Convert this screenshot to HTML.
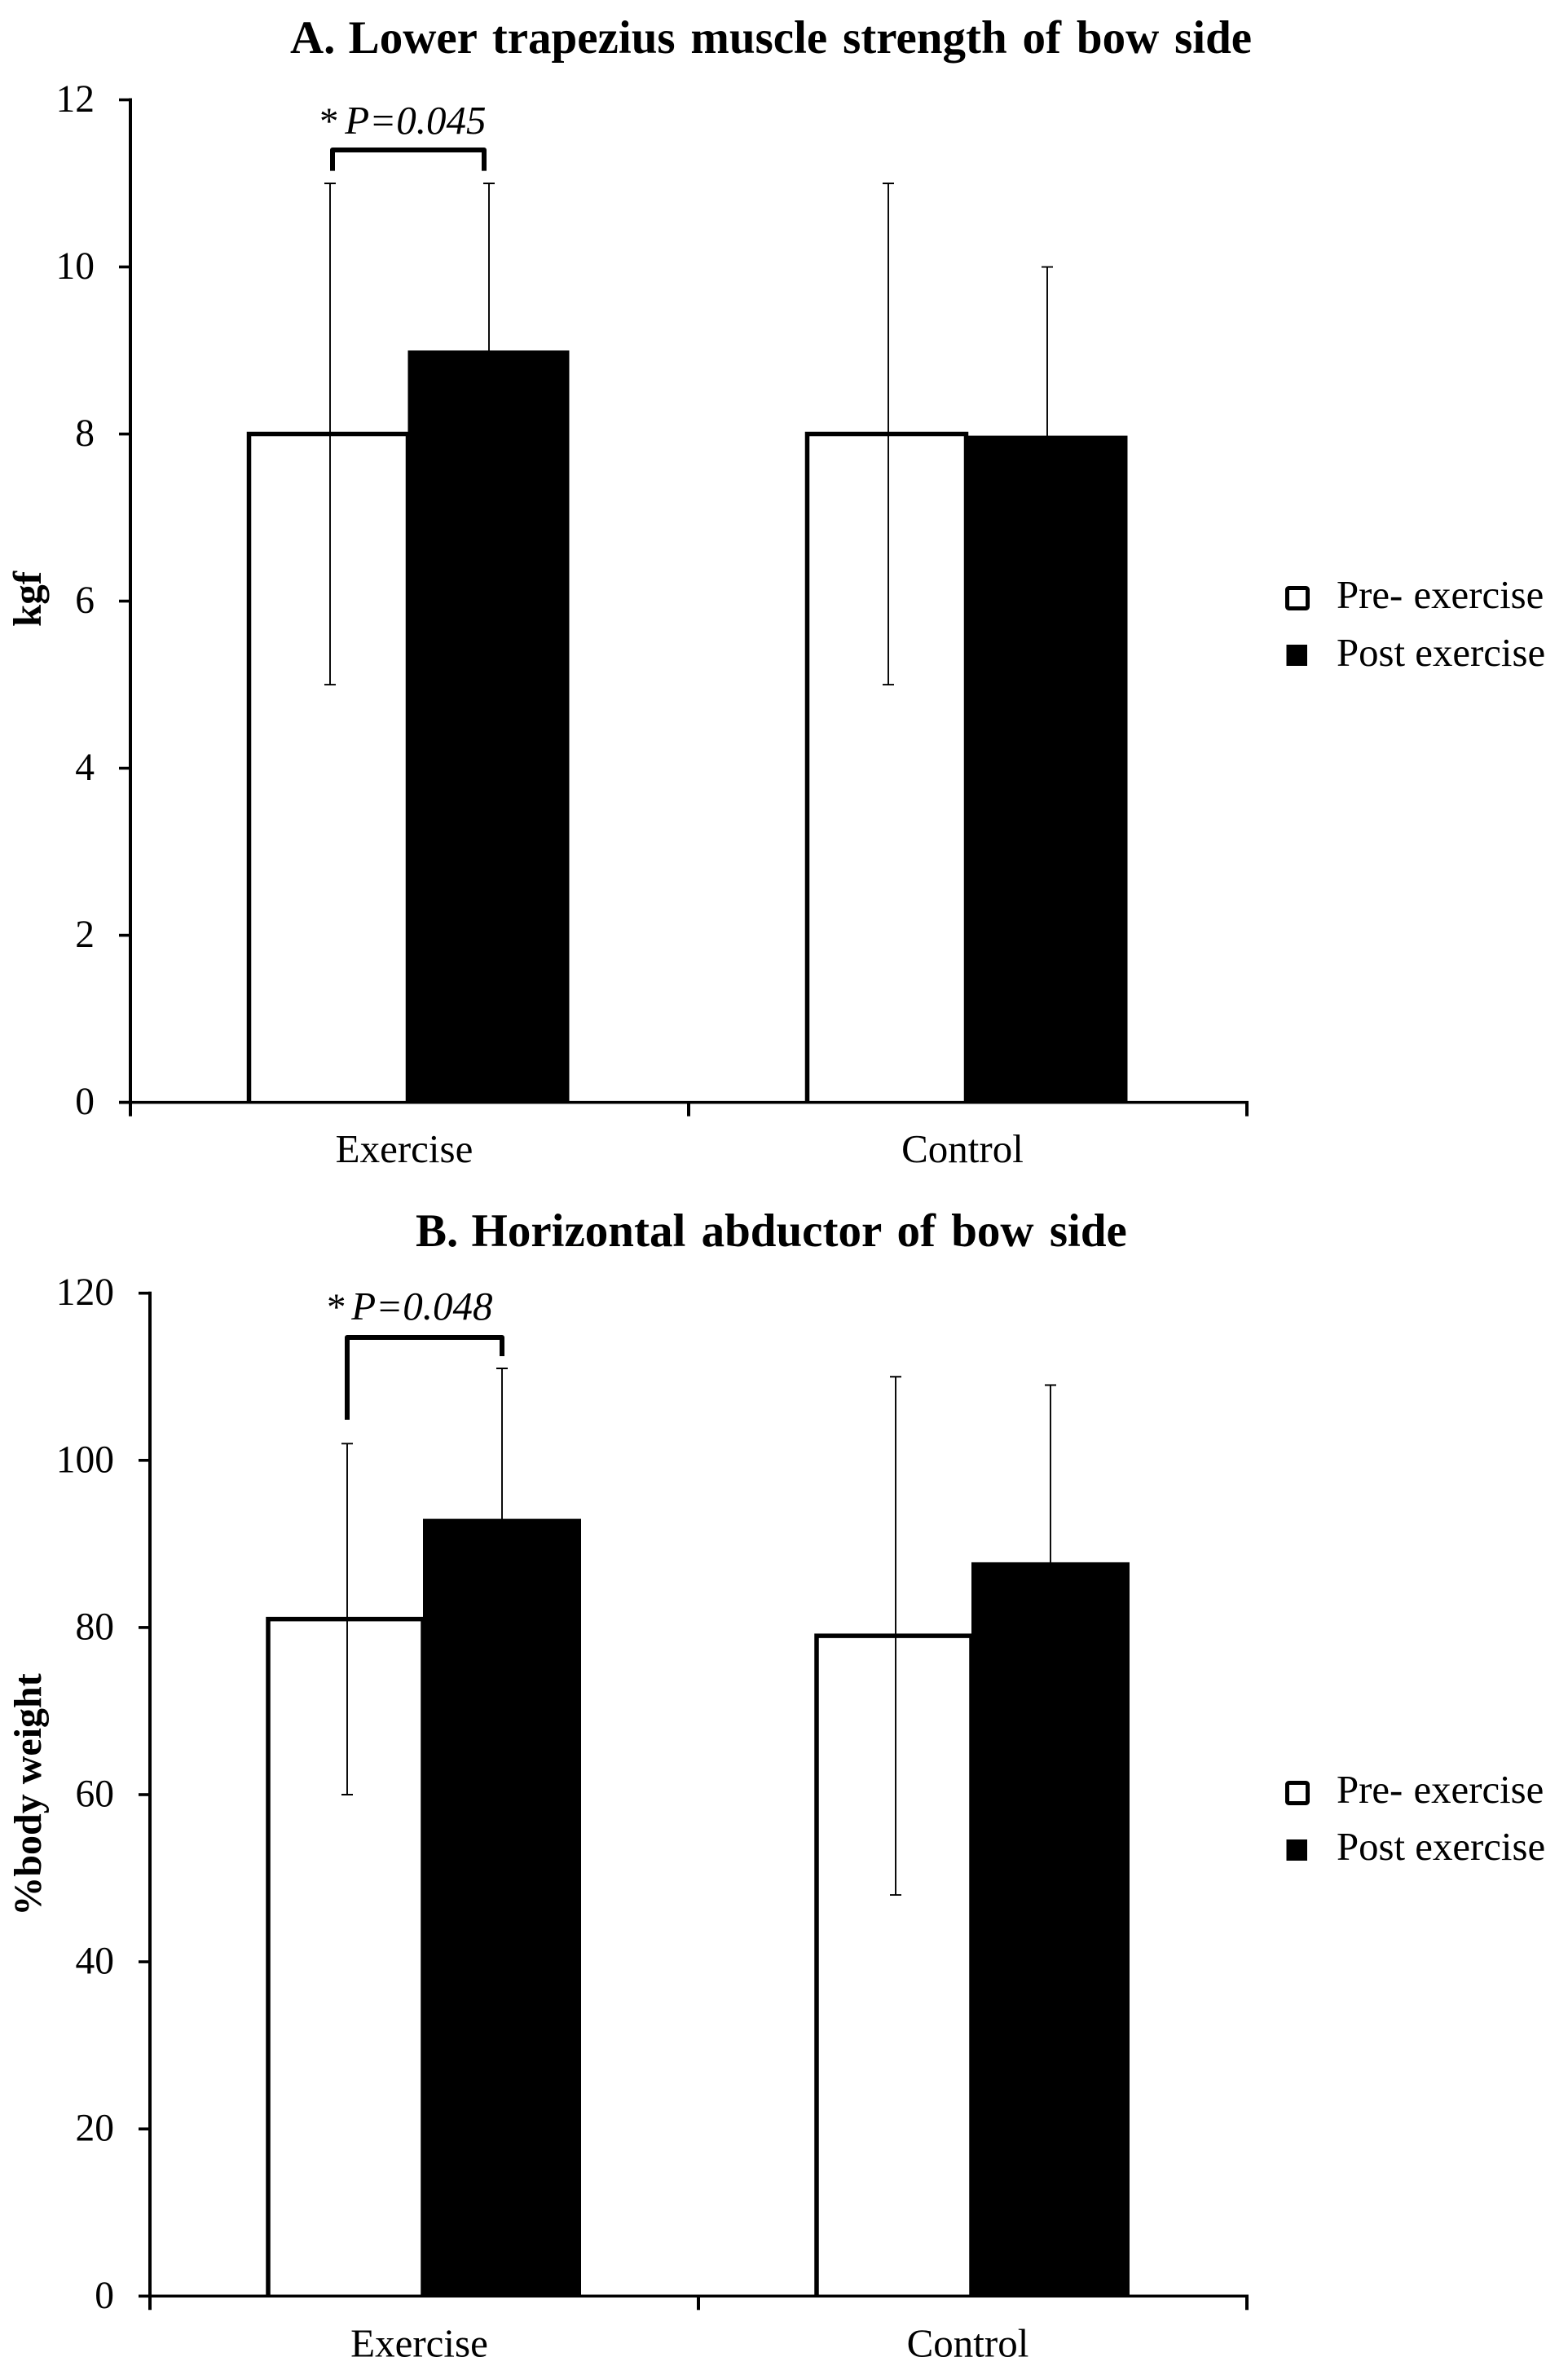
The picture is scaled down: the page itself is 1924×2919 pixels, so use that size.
<!DOCTYPE html>
<html lang="en">
<head>
<meta charset="utf-8">
<title>Lower trapezius and horizontal abductor strength</title>
<style>
html,body{margin:0;padding:0;background:#fff;}
svg{display:block;}
text{font-family:"Liberation Serif",serif;fill:#000;}
</style>
</head>
<body>
<svg id="figure" xmlns="http://www.w3.org/2000/svg" width="1924" height="2919" viewBox="0 0 1924 2919">
  <rect x="0" y="0" width="1924" height="2919" fill="#fff"/>
  <text x="356" y="65" font-size="57" font-weight="bold"><tspan word-spacing="2">A. </tspan><tspan word-spacing="4.6">Lower trapezius muscle strength of bow side</tspan></text>
  <text x="510" y="1529" font-size="57" font-weight="bold"><tspan word-spacing="2">B. </tspan><tspan word-spacing="5">Horizontal abductor of bow side</tspan></text>
  <text transform="translate(50,735) rotate(-90)" text-anchor="middle" font-size="49" font-weight="bold">kgf</text>
  <text transform="translate(50,2202) rotate(-90)" text-anchor="middle" font-size="48" font-weight="bold">%body weight</text>
  <text x="392" y="164" font-size="47">* <tspan font-style="italic" font-size="49" dx="-4">P=0.045</tspan></text>
  <text x="401" y="1619" font-size="47">* <tspan font-style="italic" font-size="49" dx="-5">P=0.048</tspan></text>
  <g>
    <rect x="1579.5" y="721.5" width="25" height="25" rx="2" fill="#fff" stroke="#000" stroke-width="5"/>
    <text x="1640" y="746" font-size="48.8" word-spacing="1">Pre- exercise</text>
    <rect x="1578.5" y="791" width="25.5" height="26" fill="#000"/>
    <text x="1640" y="817" font-size="48.8">Post exercise</text>
  </g>
  <g>
    <rect x="1579.5" y="2187.5" width="25" height="25" rx="2" fill="#fff" stroke="#000" stroke-width="5"/>
    <text x="1640" y="2212" font-size="48.8" word-spacing="1">Pre- exercise</text>
    <rect x="1578.5" y="2257" width="25.5" height="26" fill="#000"/>
    <text x="1640" y="2282" font-size="48.8">Post exercise</text>
  </g>
</svg>
<script>
const categories = ['Exercise', 'Control'];

const ticksA = [0, 2, 4, 6, 8, 10, 12];
const preA = [8, 8];
const postA = [9, 7.98];
const preHighA = [11, 11];
const preLowA = [5, 5];
const postHighA = [11, 10];
const postLowA = [7, 6];

const ticksB = [0, 20, 40, 60, 80, 100, 120];
const preB = [81, 79];
const postB = [93, 87.8];
const preHighB = [102, 110];
const preLowB = [60, 48];
const postHighB = [111, 109];
const postLowB = [75, 67];

const NS = 'http://www.w3.org/2000/svg';
const svg = document.getElementById('figure');

function make(parent, tag, attrs) {
  const el = document.createElementNS(NS, tag);
  for (const k in attrs) el.setAttribute(k, attrs[k]);
  parent.appendChild(el);
  return el;
}

function drawChart(cfg) {
  const root = make(svg, 'g', {});
  
  

  const domainMax = cfg.ticks[cfg.ticks.length - 1];
  const yScale = v => cfg.y0 - (cfg.y0 - cfg.yTop) * v / domainMax;
  const groupWidth = (cfg.xRight - cfg.xLeft) / cfg.categories.length;
  const groupStart = i => cfg.xLeft + groupWidth * i;
  const barLeft = (i, s) => groupStart(i) + cfg.barOffset + cfg.barStep * s;
  const errX = (i, s) => barLeft(i, s) + cfg.errOffset;

  cfg.categories.forEach((name, i) => {
    const px = barLeft(i, 0);
    const pre = make(root, 'path', {
      d: 'M' + px + ' ' + cfg.y0 + 'V' + yScale(cfg.pre[i]) + 'H' + (px + cfg.barStep) + 'V' + cfg.y0,
      fill: '#fff', stroke: '#000', 'stroke-width': 5.5
    });
    
    

    const post = make(root, 'rect', {
      x: barLeft(i, 1), y: yScale(cfg.post[i]),
      width: cfg.barWidth, height: cfg.y0 - yScale(cfg.post[i]),
      fill: '#000'
    });
    
    

    [[cfg.preHigh, cfg.preLow, 0, 'pre'], [cfg.postHigh, cfg.postLow, 1, 'post']].forEach(e => {
      const hi = yScale(e[0][i]);
      const lo = yScale(e[1][i]);
      const x = errX(i, e[2]);
      const d = 'M' + x + ' ' + hi + 'V' + lo +
        'M' + (x - 7) + ' ' + hi + 'H' + (x + 7) +
        'M' + (x - 7) + ' ' + lo + 'H' + (x + 7);
      const err = make(root, 'path', { d: d, fill: 'none', stroke: '#000', 'stroke-width': 1.9 });
      
      
    });

    const label = make(root, 'text', {
      x: groupStart(i) + groupWidth / 2 + cfg.catShift, y: cfg.catBaseline,
      'text-anchor': 'middle', 'font-size': 49
    });
    label.textContent = name;
    
    
  });

  const yAxis = make(root, 'line', {
    x1: cfg.xLeft, x2: cfg.xLeft, y1: yScale(domainMax) - 2, y2: cfg.y0 + 17,
    stroke: '#000', 'stroke-width': 4
  });
  
  

  const xAxis = make(root, 'line', {
    x1: cfg.xLeft - 14, x2: cfg.xRight + 2, y1: cfg.y0, y2: cfg.y0,
    stroke: '#000', 'stroke-width': 3.5
  });
  
  

  for (let i = 1; i <= cfg.categories.length; i++) {
    const t = make(root, 'line', {
      x1: groupStart(i), x2: groupStart(i), y1: cfg.y0, y2: cfg.y0 + 17,
      stroke: '#000', 'stroke-width': 4
    });
    
    
  }

  cfg.ticks.forEach(v => {
    const y = yScale(v);
    const t = make(root, 'line', {
      x1: cfg.xLeft - 14, x2: cfg.xLeft, y1: y, y2: y,
      stroke: '#000', 'stroke-width': 3.6
    });
    
    

    const label = make(root, 'text', {
      x: cfg.xLeft - 44, y: y + 14.5, 'text-anchor': 'end', 'font-size': 47.5
    });
    label.textContent = String(v);
    
    
  });

  const bx1 = errX(0, 0) + cfg.bracket.dx1;
  const bx2 = errX(0, 1) + cfg.bracket.dx2;
  const bracket = make(root, 'path', {
    d: 'M' + bx1 + ' ' + yScale(cfg.bracket.footLeft) +
       'V' + yScale(cfg.bracket.top) +
       'H' + bx2 +
       'V' + yScale(cfg.bracket.footRight),
    fill: 'none', stroke: '#000', 'stroke-width': 6, 'stroke-linejoin': 'round'
  });
  
  
}

drawChart({
  id: 'chart-a',
  categories: categories,
  ticks: ticksA,
  pre: preA, post: postA,
  preHigh: preHighA, preLow: preLowA,
  postHigh: postHighA, postLow: postLowA,
  y0: 1352.6, yTop: 122.5,
  xLeft: 160, xRight: 1530,
  barOffset: 145.5, barStep: 195, barWidth: 198, errOffset: 99.5,
  catShift: -6.5, catBaseline: 1426,
  bracket: { top: 11.4, footLeft: 11.15, footRight: 11.15, dx1: 3, dx2: -6 }
});

drawChart({
  id: 'chart-b',
  categories: categories,
  ticks: ticksB,
  pre: preB, post: postB,
  preHigh: preHighB, preLow: preLowB,
  postHigh: postHighB, postLow: postLowB,
  y0: 2817.3, yTop: 1586.7,
  xLeft: 184, xRight: 1530,
  barOffset: 145, barStep: 190, barWidth: 194, errOffset: 97,
  catShift: -6, catBaseline: 2891.5,
  bracket: { top: 114.7, footLeft: 104.86, footRight: 112.46, dx1: 0, dx2: 0 }
});
</script>
</body>
</html>
